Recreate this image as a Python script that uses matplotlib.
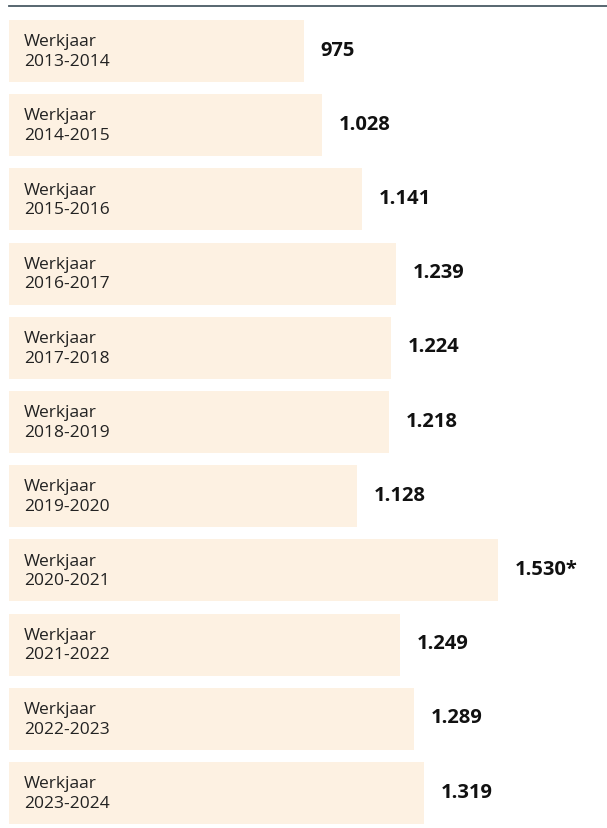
import matplotlib.pyplot as plt
from matplotlib.lines import Line2D

# data
years = ["2013-2014", "2014-2015", "2015-2016", "2016-2017", "2017-2018",
         "2018-2019", "2019-2020", "2020-2021", "2021-2022", "2022-2023",
         "2023-2024"]
values = [975, 1028, 1141, 1239, 1224, 1218, 1128, 1530, 1249, 1289, 1319]
value_labels = ["975", "1.028", "1.141", "1.239", "1.224", "1.218", "1.128",
                "1.530*", "1.249", "1.289", "1.319"]

W, H, DPI = 607, 829, 100
BAR_COLOR = "#fdf1e2"
BASE = 133  # axis starts here (bars are not drawn from zero in the original)

fig = plt.figure(figsize=(W / DPI, H / DPI), dpi=DPI)
ax = fig.add_axes([0, 0, 1, 1])

pitch = 74.2
ypos = list(range(len(values)))
ax.barh(ypos, [v - BASE for v in values], left=BASE, height=62 / pitch,
        color=BAR_COLOR, edgecolor="none")

px_per_unit = 0.35
ax.set_xlim(BASE - 9 / px_per_unit, BASE + (W - 9) / px_per_unit)
ax.set_ylim(10 + (H - 794) / pitch, -52 / pitch)
ax.axis("off")

for i, (yr, v, lab) in enumerate(zip(years, values, value_labels)):
    ax.annotate("Werkjaar\n" + yr, xy=(BASE, i), xytext=(15 * 0.72, 0),
                textcoords="offset points", ha="left", va="center",
                fontsize=12.5, family=["Open Sans", "DejaVu Sans"],
                color="#222222", linespacing=1.3)
    ax.annotate(lab, xy=(v, i), xytext=(17 * 0.72, 1),
                textcoords="offset points", ha="left", va="center",
                fontsize=14.5, fontweight="bold",
                family=["Open Sans", "DejaVu Sans"], color="#111111")

# thin rule at the top
fig.add_artist(Line2D([9 / W, 1], [1 - 7 / H, 1 - 7 / H],
                      color="#4a5a65", linewidth=1.3))

fig.savefig("out.png", dpi=DPI)
